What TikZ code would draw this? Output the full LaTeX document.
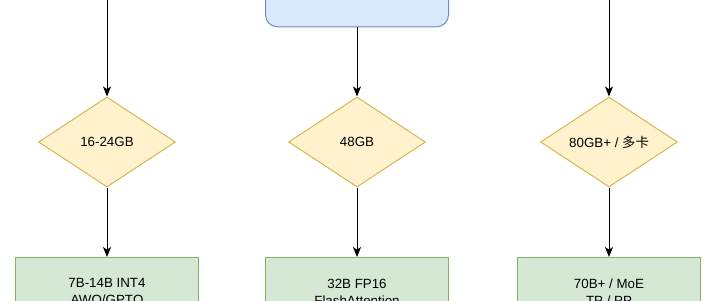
\documentclass[tikz,border=0pt]{standalone}
\usepackage{fontspec}
\setmainfont{Liberation Sans}
\newfontfamily\cjk{Noto Sans CJK SC}
\usepackage{tikz}
\usetikzlibrary{arrows.meta,positioning,shapes.geometric}
\definecolor{srccol}{HTML}{DAE8FC}
\definecolor{srcline}{HTML}{6C8EBF}
\definecolor{deccol}{HTML}{FFF2CC}
\definecolor{decline}{HTML}{D6B656}
\definecolor{rescol}{HTML}{D5E8D4}
\definecolor{resline}{HTML}{82B366}
\tikzset{
  src/.style    ={rectangle, rounded corners=9pt, draw=srcline, fill=srccol,
                  line width=0.75pt, minimum width=137.25pt, minimum height=50pt},
  decision/.style={diamond, draw=decline, fill=deccol, line width=0.75pt,
                  minimum width=102.75pt, minimum height=67.5pt, aspect=1.52,
                  inner sep=0pt, font=\fontsize{10}{12}\selectfont},
  result/.style ={rectangle, draw=resline, fill=rescol, line width=0.75pt,
                  align=center, minimum width=137.25pt, minimum height=52.5pt,
                  font=\fontsize{10}{12.5}\selectfont},
  flow/.style   ={-{Stealth[length=7.5pt,width=6pt,inset=2pt]}, line width=0.75pt},
}
\begin{document}
\begin{tikzpicture}[x=0.75pt, y=-0.75pt]
    \useasboundingbox (0,0) rectangle (710,300);
    \clip (0,0) rectangle (710,300);

    % sources above the frame
    \coordinate (inL) at (107,-20);
    \node[src] (mid) at (357,-6.5) {};
    \coordinate (inR) at (609,-20);

    % memory tiers
    \node[decision] (dL) at (107,142) {16-24GB};
    \node[decision] (dM) at (357,142) {48GB};
    \node[decision] (dR) at (609,142) {80GB+ / {\cjk 多卡}};

    % model choice
    \node[result, anchor=north] (rL) at (107,257) {7B-14B INT4\\AWQ/GPTQ};
    \node[result, anchor=north] (rM) at (357,257) {32B FP16\\FlashAttention};
    \node[result, anchor=north] (rR) at (609,257) {70B+ / MoE\\TP / PP};

    \draw[flow] (inL) -- (dL);
    \draw[flow] (mid) -- (dM);
    \draw[flow] (inR) -- (dR);
    \draw[flow] (dL) -- (rL);
    \draw[flow] (dM) -- (rM);
    \draw[flow] (dR) -- (rR);
\end{tikzpicture}
\end{document}
